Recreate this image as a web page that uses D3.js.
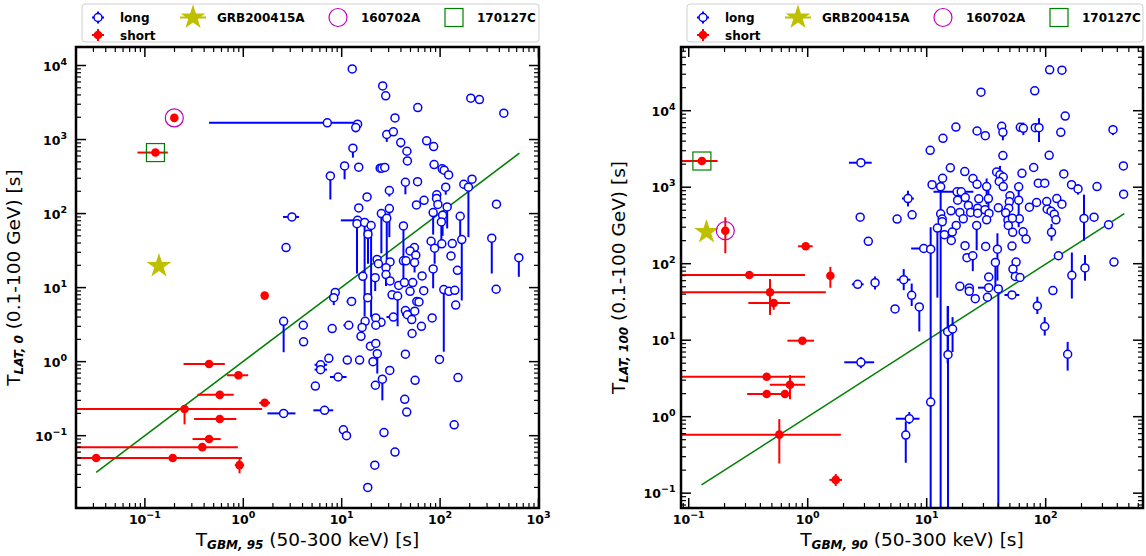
<!DOCTYPE html>
<meta charset="utf-8">
<style>
body { margin: 0; background: #fff; }
text { font-family: "DejaVu Sans", sans-serif; fill: #000; }
</style>
<body>
<script src="https://d3js.org/d3.v7.min.js"></script>
<script>

// rows: [x, y, xlo, xhi, ylo, yhi]   (0 = no error bar on that side)
var leftLong = [
  [12.8, 9000], [26.1, 5300], [28, 3900], [59.3, 2700, 0, 0, 2440, 0], [205, 3620], [251, 3470],
  [444, 2270], [34.8, 1960], [7.14, 1680, 0.449, 13.7, 0, 0], [14.5, 1610], [13.9, 1450, 0, 0, 1250, 0],
  [28.7, 1170, 0, 0, 930, 0], [33.5, 1270], [73, 960], [86, 804], [13, 764, 0, 0, 570, 0],
  [39.8, 910, 0, 0, 780, 0], [46, 695], [46.5, 515], [10.7, 440, 0, 0, 290, 0], [14.9, 423],
  [7.67, 323, 0, 0, 155, 0], [24.6, 410], [25.6, 410], [27.4, 420], [86.9, 459, 0, 0, 400, 0],
  [105, 402], [110, 385], [122, 333], [44.4, 265, 0, 0, 182, 0], [59, 270], [114, 227, 0, 0, 180, 0],
  [174, 249], [211, 291], [194, 227, 0, 0, 48, 0], [30.5, 205, 0, 0, 170, 0], [18.1, 168],
  [57.5, 131], [68.7, 151], [92.5, 179], [92, 160], [95, 133], [374, 134], [14.9, 119],
  [25.3, 100, 0, 0, 29, 0], [30.5, 117, 0, 0, 48, 0], [118, 123, 0, 0, 63, 0], [85, 103, 0, 0, 52, 0],
  [106, 95, 0, 0, 50, 0], [14.5, 81, 9.8, 15, 0, 0], [14.3, 73, 0, 0, 15.5, 0], [17.1, 76, 0, 0, 4.1, 0],
  [19.9, 69, 0, 0, 4, 0], [18.5, 52.5, 0, 0, 21, 0], [28.7, 86.5, 0, 0, 24, 0], [160, 92, 0, 0, 48, 0],
  [103, 77, 0, 0, 40, 0], [42.4, 68, 0, 0, 21, 0], [166, 44.6, 0, 0, 6.7, 0], [335, 46.5, 0, 0, 15.5, 0],
  [81, 42.3], [88, 34, 0, 0, 21, 0], [104, 39], [133, 39.3], [129, 26.8], [54.8, 34.7], [49.5, 31.3],
  [56.6, 27.4], [42.4, 23, 0, 0, 12, 0], [45, 23], [55, 21.8, 0, 0, 16, 0], [22.9, 24], [23.6, 21],
  [31, 22.2], [28.2, 18.6], [28.2, 15, 0, 0, 10.5, 0], [16.4, 14.2], [21.9, 13.6, 0, 0, 9, 0],
  [85, 17.9, 0, 0, 9.8, 0], [150, 17.1], [65.6, 14.4], [631, 25.4, 0, 0, 14, 0], [31, 12.3], [38, 10.7],
  [43.4, 11.7], [52.7, 11.7],
  [371, 9.5], [109, 9.4, 0, 0, 1.36, 0], [123, 8.9], [141, 9.2], [144, 5.8], [8.6, 8.6],
  [8.3, 7.3, 0, 0, 5.8, 0], [12.6, 6.5, 11.2, 14, 0, 0], [18.4, 7.3], [32.5, 8], [37, 7.7, 0, 0, 3.0, 0],
  [49.5, 8.9], [68.2, 9.1], [58, 6.5], [61, 6.4], [44.4, 4.9], [55.2, 4.8], [46.5, 4.3, 41, 52, 0, 0],
  [51.5, 3.7], [64.6, 3.0], [51.9, 2.4], [83, 3.9], [33.5, 4.0, 28.5, 36.5, 0, 0], [25.1, 3.4],
  [22.2, 3.9], [22.2, 3.1], [17.3, 3.5], [16.1, 2.9], [15.7, 2.2], [11.8, 3.1, 10.4, 12.9, 0, 0],
  [8.0, 2.8], [4.07, 3.1], [4.1, 1.85], [19.6, 1.62], [22.2, 1.76], [23, 1.28, 0, 0, 0.69, 0],
  [44.4, 1.26], [7.4, 1.11], [11.4, 1.05], [15.2, 1.05], [20.8, 1.0], [98.5, 1.07],
  [6.1, 0.906, 5.3, 7.1, 0, 0], [6.1, 0.78, 5.3, 7.1, 0, 0], [9.2, 0.62, 7.6, 11.2, 0, 0], [30.8, 0.76],
  [25.9, 0.58, 0, 0, 0.3, 0], [22, 0.48], [55.7, 0.56], [152, 0.61], [5.4, 0.468], [43.7, 0.31],
  [45.8, 0.208], [6.7, 0.22, 5.15, 8.2, 0, 0], [139, 0.14], [10.4, 0.12], [11.2, 0.1], [26.9, 0.11],
  [34.8, 0.06], [21.7, 0.04], [18.4, 0.02],
  [2.57, 3.5, 0, 0, 1.34, 0], [2.57, 0.2, 1.76, 3.39, 0, 0], [3.12, 90, 2.53, 3.68, 0, 0], [2.72, 34.7]
];

var leftShort = [
  [0.199, 1960], [0.128, 667, 0.084, 0.171, 0, 0], [1.65, 7.8], [0.449, 0.93, 0.247, 0.649, 0, 0],
  [0.893, 0.655, 0.68, 1.12, 0, 0], [0.577, 0.356, 0.343, 0.80, 0, 0], [1.65, 0.278, 1.45, 1.87, 0, 0],
  [0.253, 0.229, 0.01, 1.55, 0.142, 0], [0.577, 0.168, 0.316, 0.85, 0, 0], [0.449, 0.090, 0.305, 0.59, 0, 0],
  [0.383, 0.070, 0.01, 0.88, 0, 0], [0.032, 0.050], [0.192, 0.050, 0.01, 0.97, 0, 0],
  [0.916, 0.040, 0.82, 1.02, 0.031, 0.049]
];

var rightLong = [
  [2.8, 2090, 2.22, 3.45, 0, 0], [2.76, 405], [3.23, 196], [2.63, 53.8, 2.35, 2.95, 0, 0],
  [3.68, 56.5, 0, 0, 46, 68], [2.8, 5.14, 2.03, 3.62, 4.3, 6.0],
  [108, 34300], [137, 33900], [28.6, 17500], [80.9, 18200], [146, 8510], [17.6, 6120], [26.5, 5430],
  [31.1, 4720], [42.7, 6250], [43.7, 5210, 0, 0, 4100, 6000], [61.2, 6060], [64.9, 5890, 0, 0, 4800, 7000],
  [81.8, 6000], [87.9, 6000, 0, 0, 3900, 8000], [134, 5210], [368, 5650, 0, 0, 4800, 6500],
  [13.7, 4360], [10.7, 3040], [43.7, 2590], [107, 2610], [15.8, 1790], [20.9, 1600], [38.7, 1580],
  [41.3, 1450, 0, 0, 1020, 1900], [44, 1360], [63.2, 1520], [79.3, 1810], [142, 1490], [450, 1900],
  [13.6, 1310], [11.1, 1080], [13.1, 1010, 0, 0, 480, 1200], [24.5, 1300], [26.5, 1090],
  [31.9, 1020, 0, 0, 600, 1300], [40.7, 1190], [44, 1020], [59.3, 1010], [86.7, 1130], [98.2, 1130],
  [165, 1080], [187, 950, 0, 0, 800, 1100], [270, 1020], [452, 810], [6.96, 711, 6.2, 7.8, 560, 900],
  [18, 869, 11.4, 24.7, 0, 0], [19.5, 869], [18.2, 676], [21.1, 733], [27.4, 705], [22.4, 577],
  [23.4, 468], [26.8, 532], [26.8, 458], [33, 711, 0, 0, 400, 900], [30.9, 506], [33.4, 454],
  [31.9, 375], [16, 491], [19, 468], [20.3, 386], [13.1, 449, 0, 0, 0.01, 0], [13.5, 383], [13.5, 353],
  [17.7, 316], [16.4, 259], [16.1, 201], [14.1, 239], [12.3, 292, 0, 0, 36, 0],
  [26.3, 316, 0, 0, 150, 0], [40, 537], [50.1, 771], [49.5, 644], [48.9, 532], [46.1, 462], [48.2, 371],
  [48.5, 316], [59.3, 676, 0, 0, 300, 1000], [60.1, 386], [52.5, 394], [52.8, 257], [64.6, 261],
  [68.4, 210], [73, 548], [83.9, 631], [102, 650], [103, 516], [111, 486], [124, 711], [137, 600],
  [118, 444], [122, 375], [112, 257, 0, 0, 200, 330], [5.64, 383], [7.54, 436],
  [210, 390, 0, 0, 200, 800], [255, 406], [338, 323], [9.44, 158, 7.4, 10.5, 0, 0], [10.8, 155],
  [21, 172], [21.8, 120], [24.4, 127, 0, 0, 80, 0], [31.3, 168], [39.3, 155, 0, 0, 60, 250],
  [52.1, 170], [37.8, 104, 0, 0, 45, 0], [56.4, 105], [53.1, 85], [55.6, 68], [60.8, 66], [128, 127],
  [375, 105], [214, 88, 0, 0, 60, 130], [166, 70.5, 0, 0, 35, 140], [33.2, 67],
  [6.41, 61.8, 5.6, 7.3, 45, 85], [19, 50.6], [22.8, 48.2], [22.8, 43.6], [33.2, 48.6, 27, 36, 0, 0],
  [40, 46.8, 0, 0, 0.01, 0], [115, 44.5], [7.48, 38.6, 0, 0, 28, 55], [25.6, 34.9], [32.4, 36.4],
  [52.1, 39, 45, 60, 0, 0], [5.42, 25.6], [8.67, 27.2, 0, 0, 13, 0], [85.1, 28, 0, 0, 22, 37],
  [98.2, 15.1, 0, 0, 11.5, 20], [15, 12.9, 0, 0, 5, 28], [16.5, 14, 0, 0, 7, 20],
  [15.1, 6.47, 0, 0, 0.01, 28], [153, 6.55, 0, 0, 4, 9.5], [10.8, 1.55, 0, 0, 0.01, 300],
  [7.14, 0.94, 5.5, 8.7, 0.8, 1.15], [6.67, 0.574, 0, 0, 0.25, 0.86]
];

var rightShort = [
  [0.129, 2200, 0.01, 0.175, 0, 0], [0.203, 270, 0, 0, 137, 405], [0.962, 169, 0.83, 1.1, 0, 0],
  [0.323, 71, 0.01, 0.95, 0, 0], [1.55, 69.7, 0, 0, 48.5, 91], [0.482, 42.3, 0.01, 1.42, 21.4, 63],
  [0.518, 30.6, 0.317, 0.71, 25, 0], [0.902, 9.85, 0.675, 1.13, 0, 0], [0.452, 3.33, 0.01, 0.95, 0, 0],
  [0.71, 2.62, 0.48, 0.95, 1.69, 3.5], [0.452, 1.98, 0.31, 0.644, 0, 0], [0.644, 1.98],
  [0.577, 0.582, 0.01, 1.9, 0.244, 0.93], [1.72, 0.149, 1.52, 1.94, 0.124, 0.178]
];

// GRB200415A, 160702A, 170127C
var leftStar = [0.139, 19.6], leftRing = [0.199, 1960], leftSquare = [0.128, 667];
var rightStar = [0.141, 260], rightRing = [0.203, 270], rightSquare = [0.129, 2200];

// y = x line, endpoints
var leftFit = [[0.032, 0.032], [640, 655]];
var rightFit = [[0.128, 0.128], [458, 451]];

var leftXExp = [-1, 0, 1, 2, 3], leftYExp = [-1, 0, 1, 2, 3, 4];
var rightXExp = [-1, 0, 1, 2], rightYExp = [-1, 0, 1, 2, 3, 4];

var leftXLabel = ["T", "GBM, 95", " (50-300 keV) [s]"];
var leftYLabel = ["T", "LAT, 0", " (0.1-100 GeV) [s]"];
var rightXLabel = ["T", "GBM, 90", " (50-300 keV) [s]"];
var rightYLabel = ["T", "LAT, 100", " (0.1-100 GeV) [s]"];

var legendNames = ["long", "GRB200415A", "160702A", "170127C", "short"];

var BLUE = "#0000ff", RED = "#ff0000", STAR = "#bfbf00", MAG = "#bf00bf", GREEN = "#008000";

var svg = d3.select("body").append("svg")
    .attr("width", 1146)
    .attr("height", 556);

var panels = [
  {id: "L", x0: 76, x1: 539, y0: 47, y1: 508, xd: [-1.70, 3.005], yd: [-1.977, 4.25],
   long: leftLong, short: leftShort, star: leftStar, ring: leftRing, square: leftSquare, fit: leftFit,
   xExp: leftXExp, yExp: leftYExp, xLabel: leftXLabel, yLabel: leftYLabel, yLabelX: 20, legX: 82, gap: 9},
  {id: "R", x0: 681, x1: 1143, y0: 47, y1: 508, xd: [-1.065, 2.818], yd: [-1.194, 4.833],
   long: rightLong, short: rightShort, star: rightStar, ring: rightRing, square: rightSquare, fit: rightFit,
   xExp: rightXExp, yExp: rightYExp, xLabel: rightXLabel, yLabel: rightYLabel, yLabelX: 625, legX: 687, gap: 5.5}
];

function minorTicks(d) {
  var out = [];
  for (var n = Math.floor(d[0]); n <= Math.ceil(d[1]); n++)
    for (var k = 2; k <= 9; k++) {
      var v = Math.log10(k) + n;
      if (v > d[0] && v < d[1]) out.push(Math.pow(10, v));
    }
  return out;
}

function supLabel(sel, e) {
  sel.append("tspan").text("10");
  sel.append("tspan").attr("dy", -6).attr("font-size", 9.5).text(e < 0 ? "\u2212" + (-e) : e);
}

function axisLabel(g, parts, x, y, rot) {
  var t = g.append("text")
      .attr("text-anchor", "middle")
      .attr("font-size", 18.5)
      .attr("transform", "translate(" + x + "," + y + ")" + (rot ? " rotate(-90)" : ""));
  t.append("tspan").text(parts[0]);
  t.append("tspan").attr("dy", 3).attr("font-size", 12).attr("font-weight", "bold")
      .attr("font-style", "italic").text(parts[1]);
  t.append("tspan").attr("dy", -3).text(parts[2]);
}

function drawPanel(p) {
  var x = d3.scaleLog().domain(p.xd.map(function(v) { return Math.pow(10, v); })).range([p.x0, p.x1]);
  var y = d3.scaleLog().domain(p.yd.map(function(v) { return Math.pow(10, v); })).range([p.y1, p.y0]);
  var g = svg.append("g");

  g.append("clipPath").attr("id", "clip" + p.id)
    .append("rect").attr("x", p.x0).attr("y", p.y0).attr("width", p.x1 - p.x0).attr("height", p.y1 - p.y0);
  var plot = g.append("g").attr("clip-path", "url(#clip" + p.id + ")");

  // fit line
  plot.append("line")
      .attr("x1", x(p.fit[0][0])).attr("y1", y(p.fit[0][1]))
      .attr("x2", x(p.fit[1][0])).attr("y2", y(p.fit[1][1]))
      .attr("stroke", GREEN).attr("stroke-width", 1.5);

  function errbars(data, color) {
    data.forEach(function(d) {
      if (d[2]) plot.append("line").attr("x1", x(d[2])).attr("x2", x(d[3] || d[0]))
          .attr("y1", y(d[1])).attr("y2", y(d[1])).attr("stroke", color).attr("stroke-width", 2);
      if (d[4] || d[5]) plot.append("line").attr("x1", x(d[0])).attr("x2", x(d[0]))
          .attr("y1", y(d[4] || d[1])).attr("y2", y(d[5] || d[1])).attr("stroke", color).attr("stroke-width", 2);
    });
  }
  errbars(p.long, BLUE);
  errbars(p.short, RED);

  plot.selectAll("circle.long").data(p.long).enter().append("circle")
      .attr("cx", function(d) { return x(d[0]); })
      .attr("cy", function(d) { return y(d[1]); })
      .attr("r", 4)
      .attr("fill", "#fff").attr("stroke", BLUE).attr("stroke-width", 1.5);

  plot.selectAll("circle.short").data(p.short).enter().append("circle")
      .attr("cx", function(d) { return x(d[0]); })
      .attr("cy", function(d) { return y(d[1]); })
      .attr("r", 4.3)
      .attr("fill", RED);

  plot.append("path")
      .attr("d", d3.symbol(d3.symbolStar, 190)())
      .attr("transform", "translate(" + x(p.star[0]) + "," + y(p.star[1]) + ")")
      .attr("fill", STAR);
  plot.append("circle")
      .attr("cx", x(p.ring[0])).attr("cy", y(p.ring[1])).attr("r", 9)
      .attr("fill", "none").attr("stroke", MAG).attr("stroke-width", 1.2);
  plot.append("rect")
      .attr("x", x(p.square[0]) - 9).attr("y", y(p.square[1]) - 9).attr("width", 18).attr("height", 18)
      .attr("fill", "none").attr("stroke", GREEN).attr("stroke-width", 1.2);

  // ticks on all four sides, pointing in
  var xMaj = p.xExp.map(function(e) { return Math.pow(10, e); });
  var yMaj = p.yExp.map(function(e) { return Math.pow(10, e); });
  var xMin = minorTicks(p.xd), yMin = minorTicks(p.yd);
  var tk = g.append("g").attr("stroke", "#000");
  function vt(v, len, w) {
    tk.append("line").attr("x1", x(v)).attr("x2", x(v)).attr("y1", p.y1).attr("y2", p.y1 - len).attr("stroke-width", w);
    tk.append("line").attr("x1", x(v)).attr("x2", x(v)).attr("y1", p.y0).attr("y2", p.y0 + len).attr("stroke-width", w);
  }
  function ht(v, len, w) {
    tk.append("line").attr("y1", y(v)).attr("y2", y(v)).attr("x1", p.x0).attr("x2", p.x0 + len).attr("stroke-width", w);
    tk.append("line").attr("y1", y(v)).attr("y2", y(v)).attr("x1", p.x1).attr("x2", p.x1 - len).attr("stroke-width", w);
  }
  xMaj.forEach(function(v) { vt(v, 10, 1.5); });
  xMin.forEach(function(v) { vt(v, 5, 1.2); });
  yMaj.forEach(function(v) { ht(v, 10, 1.5); });
  yMin.forEach(function(v) { ht(v, 5, 1.2); });

  g.append("rect")
      .attr("x", p.x0).attr("y", p.y0).attr("width", p.x1 - p.x0).attr("height", p.y1 - p.y0)
      .attr("fill", "none").attr("stroke", "#000").attr("stroke-width", 2.5);

  p.xExp.forEach(function(e) {
    var t = g.append("text").attr("x", x(Math.pow(10, e))).attr("y", p.y1 + 15.5)
        .attr("text-anchor", "middle").attr("font-size", 12.5).attr("font-weight", "bold");
    supLabel(t, e);
  });
  p.yExp.forEach(function(e) {
    var t = g.append("text").attr("x", p.x0 - p.gap).attr("y", y(Math.pow(10, e)) + 5)
        .attr("text-anchor", "end").attr("font-size", 12.5).attr("font-weight", "bold");
    supLabel(t, e);
  });

  axisLabel(g, p.xLabel, (p.x0 + p.x1) / 2, 546, false);
  axisLabel(g, p.yLabel, p.yLabelX, (p.y0 + p.y1) / 2, true);

  // legend
  var lg = g.append("g").attr("transform", "translate(" + p.legX + ",4)");
  lg.append("rect").attr("width", p.x1 - p.legX).attr("height", 38).attr("rx", 3)
      .attr("fill", "#fff").attr("stroke", "#d0d0d0").attr("stroke-width", 1);
  var r1 = 13.5, r2 = 31;
  function cross(cx, cy, color) {
    lg.append("line").attr("x1", cx - 6).attr("x2", cx + 6).attr("y1", cy).attr("y2", cy)
        .attr("stroke", color).attr("stroke-width", 2);
    lg.append("line").attr("x1", cx).attr("x2", cx).attr("y1", cy - 6).attr("y2", cy + 6)
        .attr("stroke", color).attr("stroke-width", 2);
  }
  cross(16, r1, BLUE);
  lg.append("circle").attr("cx", 16).attr("cy", r1).attr("r", 4)
      .attr("fill", "#fff").attr("stroke", BLUE).attr("stroke-width", 1.5);
  cross(16, r2, RED);
  lg.append("circle").attr("cx", 16).attr("cy", r2).attr("r", 4.3).attr("fill", RED);
  lg.append("line").attr("x1", 98).attr("x2", 124).attr("y1", r1).attr("y2", r1)
      .attr("stroke", STAR).attr("stroke-width", 2);
  lg.append("path").attr("d", d3.symbol(d3.symbolStar, 190)())
      .attr("transform", "translate(111," + r1 + ")").attr("fill", STAR);
  lg.append("circle").attr("cx", 256).attr("cy", r1).attr("r", 9)
      .attr("fill", "none").attr("stroke", MAG).attr("stroke-width", 1.2);
  lg.append("rect").attr("x", 372 - 9).attr("y", r1 - 9).attr("width", 18).attr("height", 18)
      .attr("fill", "none").attr("stroke", GREEN).attr("stroke-width", 1.2);

  var tx = [38, 135, 279, 395, 38], ty = [r1, r1, r1, r1, r2];
  legendNames.forEach(function(name, i) {
    lg.append("text").attr("x", tx[i]).attr("y", ty[i] + 4.5)
        .attr("font-size", 12).attr("font-weight", "bold").text(name);
  });
}

panels.forEach(drawPanel);
</script>
